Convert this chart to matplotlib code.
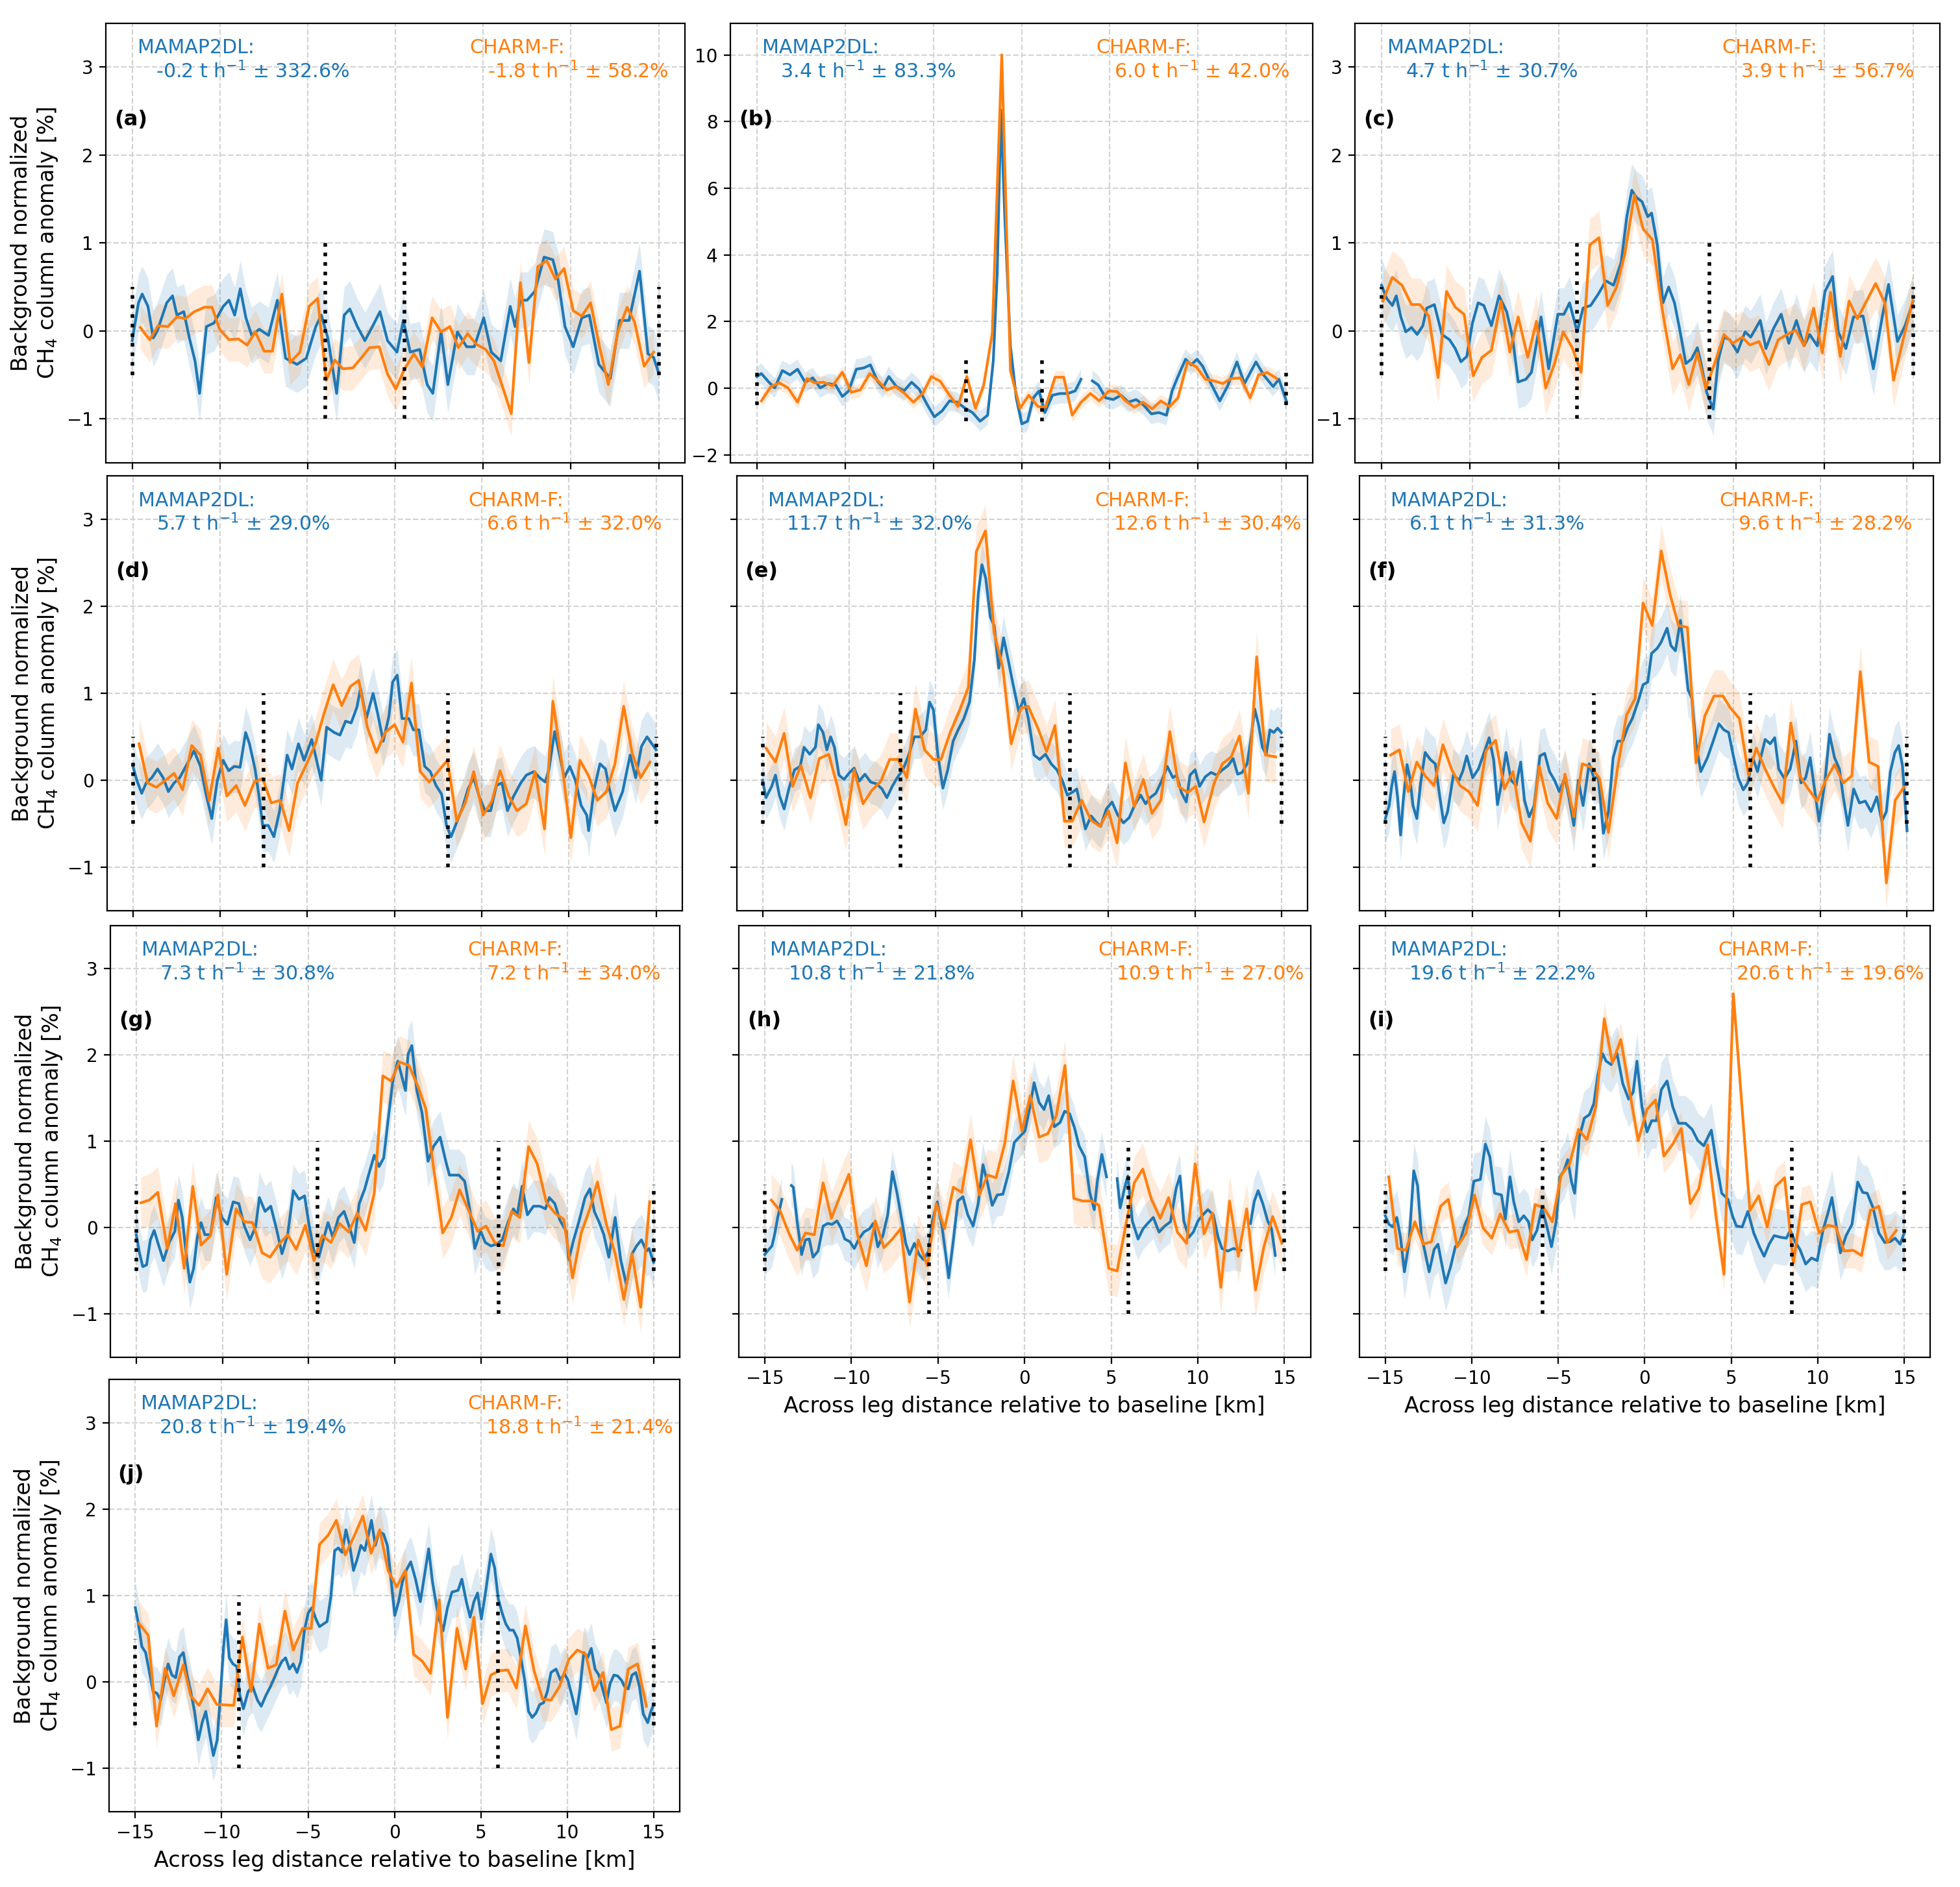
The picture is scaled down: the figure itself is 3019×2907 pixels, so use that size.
import numpy as np
import matplotlib
matplotlib.use("Agg")
import matplotlib.pyplot as plt

nan = np.nan

# Panel letters and reported emission rates (t/h) with relative errors (%)
panels = ["a", "b", "c", "d", "e", "f", "g", "h", "i", "j"]
mamap_rate = [-0.2, 3.4, 4.7, 5.7, 11.7, 6.1, 7.3, 10.8, 19.6, 20.8]
mamap_err = [332.6, 83.3, 30.7, 29.0, 32.0, 31.3, 30.8, 21.8, 22.2, 19.4]
charm_rate = [-1.8, 6.0, 3.9, 6.6, 12.6, 9.6, 7.2, 10.9, 20.6, 18.8]
charm_err = [58.2, 42.0, 56.7, 32.0, 30.4, 28.2, 34.0, 27.0, 19.6, 21.4]

# Inner plume boundaries (km)
edge_left = [-4.0, -3.15, -3.98, -7.52, -7.02, -3.01, -4.49, -5.5, -5.9, -9.0]
edge_right = [0.5, 1.17, 3.5, 3.07, 2.79, 6.0, 6.02, 6.0, 8.5, 5.99]

# Approximate 1-sigma band half-widths (%)
mamap_unc = [0.32, 0.3, 0.3, 0.3, 0.25, 0.3, 0.3, 0.25, 0.32, 0.3]
charm_unc = [0.25, 0.2, 0.3, 0.3, 0.3, 0.3, 0.3, 0.3, 0.2, 0.25]

# Profiles: (across-leg distance km, anomaly %)
a_mamap = [(-15.0, -0.11), (-14.64, 0.32), (-14.43, 0.42), (-14.1, 0.28), (-13.8, -0.08), (-13.57, 0.0),
           (-13.03, 0.32), (-12.7, 0.40), (-12.45, 0.18), (-12.06, 0.22), (-11.74, -0.08), (-11.42, -0.34),
           (-11.16, -0.71), (-10.77, 0.05), (-10.34, 0.09), (-9.81, 0.28), (-9.48, 0.35), (-9.16, 0.18),
           (-8.84, 0.48), (-8.52, 0.15), (-8.19, -0.05), (-7.76, 0.02), (-7.23, -0.05), (-6.73, 0.35),
           (-6.26, -0.31), (-5.61, -0.38), (-5.08, -0.31), (-4.54, 0.05), (-4.22, 0.18), (-3.85, -0.08),
           (-3.35, -0.71), (-2.92, 0.18), (-2.6, 0.25), (-2.17, 0.05), (-1.74, -0.11), (-1.31, 0.05),
           (-0.88, 0.22), (-0.45, -0.11), (0.09, -0.24), (0.45, 0.12), (0.84, -0.24), (1.38, -0.21),
           (1.81, -0.61), (2.13, -0.71), (2.6, -0.01), (2.99, -0.61), (3.53, -0.01), (4.06, -0.18),
           (4.49, -0.18), (5.03, 0.15), (5.46, -0.24), (6.0, -0.34), (6.54, 0.28), (6.82, 0.05),
           (7.12, 0.35), (7.5, 0.35), (7.94, 0.45), (8.47, 0.84), (8.97, 0.81), (9.27, 0.58),
           (9.66, 0.05), (10.13, -0.18), (10.62, 0.15), (11.05, 0.18), (11.59, -0.38), (12.24, -0.54),
           (12.77, 0.12), (13.31, 0.12), (13.91, 0.68), (14.39, -0.26), (14.71, -0.3), (15.0, -0.48)]
a_charm = [(-14.54, 0.04), (-14.0, -0.1), (-13.53, 0.06), (-12.97, 0.05), (-12.45, 0.16), (-11.96, 0.14),
           (-11.46, 0.22), (-10.88, 0.27), (-10.45, 0.27), (-10.02, 0.02), (-9.48, -0.1), (-8.95, -0.09),
           (-8.45, -0.16), (-7.98, -0.01), (-7.48, -0.23), (-7.01, -0.23), (-6.47, 0.42), (-6.0, -0.36),
           (-5.44, -0.24), (-4.92, 0.28), (-4.43, 0.37), (-3.94, -0.56), (-3.46, -0.33), (-2.99, -0.43),
           (-2.43, -0.42), (-1.96, -0.31), (-1.48, -0.19), (-0.92, -0.18), (-0.45, -0.49), (0.02, -0.66),
           (0.52, -0.43), (1.05, -0.26), (1.53, -0.41), (2.09, 0.15), (2.6, -0.01), (3.1, 0.05),
           (3.59, -0.19), (4.11, -0.03), (4.6, -0.15), (5.14, -0.21), (5.61, -0.34), (6.11, -0.64),
           (6.6, -0.94), (7.12, 0.55), (7.61, -0.36), (8.11, 0.73), (8.62, 0.80), (9.12, 0.59),
           (9.61, 0.71), (10.13, 0.23), (10.62, 0.17), (11.12, 0.32), (11.63, -0.18), (12.13, -0.61),
           (12.67, -0.01), (13.2, 0.27), (13.63, 0.1), (14.17, -0.4), (14.71, -0.24)]

b_mamap = [(-15.0, 0.35), (-14.74, 0.44), (-14.31, 0.18), (-13.98, 0.01), (-13.55, 0.53), (-13.12, 0.40),
           (-12.69, 0.57), (-12.26, 0.18), (-11.83, 0.31), (-11.4, 0.01), (-10.97, 0.14), (-10.54, 0.1),
           (-10.15, -0.25), (-9.79, -0.08), (-9.36, 0.57), (-8.93, 0.61), (-8.56, 0.70), (-8.17, 0.22),
           (-7.85, 0.01), (-7.52, 0.35), (-7.09, 0.05), (-6.66, -0.08), (-6.23, 0.18), (-5.8, -0.03),
           (-5.37, -0.47), (-4.94, -0.86), (-4.5, -0.68), (-4.08, -0.38), (-3.65, -0.42), (-3.2, -0.6),
           (-2.78, -0.73), (-2.35, -0.99), (-1.92, -0.81), (-1.6, 0.83), (-1.38, 3.42), (-1.17, 8.35),
           (-0.95, 5.15), (-0.63, 1.26), (-0.3, -0.29), (0.02, -1.07), (0.34, -0.99), (0.67, -0.29),
           (0.99, -0.08), (1.32, -0.73), (1.75, -0.21), (2.18, -0.16), (2.61, -0.16), (3.04, -0.08),
           (3.37, 0.27), (3.7, nan), (4.01, 0.22), (4.34, 0.1), (4.77, -0.29), (5.2, -0.34),
           (5.63, -0.21), (6.06, -0.42), (6.49, -0.34), (6.92, -0.51), (7.35, -0.77), (7.78, -0.73),
           (8.21, -0.81), (8.53, -0.08), (8.86, 0.35), (9.29, 0.87), (9.61, 0.70), (9.94, 0.87),
           (10.26, 0.66), (10.69, 0.18), (11.23, -0.38), (11.66, 0.05), (12.2, 0.79), (12.63, 0.14),
           (13.28, 0.79), (13.71, 0.40), (14.25, 0.05), (14.58, 0.27), (15.0, -0.38)]
b_charm = [(-14.74, -0.38), (-14.2, 0.05), (-13.72, 0.16), (-13.23, 0.01), (-12.69, -0.42), (-12.15, 0.29),
           (-11.72, 0.16), (-11.22, 0.18), (-10.71, 0.07), (-10.15, 0.48), (-9.64, -0.12), (-9.14, -0.05),
           (-8.6, 0.44), (-8.13, 0.22), (-7.63, -0.05), (-7.14, 0.05), (-6.62, -0.16), (-6.12, -0.42),
           (-5.58, -0.14), (-5.11, 0.35), (-4.61, 0.21), (-4.11, -0.19), (-3.6, -0.55), (-3.1, 0.35),
           (-2.61, -0.6), (-2.14, 0.1), (-1.66, 1.65), (-1.12, 10.0), (-0.63, 0.53), (-0.09, -0.6),
           (0.41, -0.21), (0.93, -0.55), (1.36, -0.57), (1.9, 0.33), (2.39, 0.33), (2.87, -0.81),
           (3.37, -0.42), (3.9, -0.16), (4.4, -0.38), (4.94, -0.08), (5.41, -0.1), (5.89, -0.38),
           (6.39, -0.57), (6.88, -0.42), (7.4, -0.62), (7.89, -0.38), (8.39, -0.55), (8.86, -0.29),
           (9.4, 0.79), (9.9, 0.64), (10.41, 0.27), (10.9, 0.22), (11.4, 0.14), (11.87, 0.29),
           (12.41, 0.31), (12.95, -0.29), (13.43, 0.4), (13.92, 0.47), (14.46, 0.29)]

c_mamap = [(-15.0, 0.52), (-14.71, 0.37), (-14.39, 0.29), (-14.17, 0.40), (-13.91, 0.16), (-13.63, -0.01),
           (-13.31, 0.04), (-12.99, -0.04), (-12.67, 0.06), (-12.45, 0.26), (-12.02, 0.30), (-11.59, -0.04),
           (-11.16, -0.1), (-10.84, -0.2), (-10.52, -0.35), (-10.19, -0.29), (-9.87, 0.09), (-9.55, 0.32),
           (-9.23, 0.29), (-8.8, 0.06), (-8.37, 0.40), (-7.94, 0.22), (-7.61, -0.07), (-7.29, -0.58),
           (-6.86, -0.55), (-6.54, -0.47), (-6.0, 0.16), (-5.57, -0.43), (-5.05, 0.19), (-4.71, 0.19),
           (-4.39, 0.32), (-3.96, -0.01), (-3.63, 0.26), (-3.2, 0.29), (-2.77, 0.42), (-2.34, 0.57),
           (-1.91, 0.52), (-1.48, 0.78), (-1.16, 1.30), (-0.88, 1.60), (-0.62, 1.52), (-0.3, 1.47),
           (0.02, 1.30), (0.24, 1.34), (0.56, 0.98), (0.88, 0.32), (1.2, 0.50), (1.53, 0.32),
           (1.85, -0.01), (2.17, -0.37), (2.49, -0.32), (2.82, -0.19), (3.03, -0.37), (3.35, -0.70),
           (3.72, -0.89), (4.0, -0.33), (4.32, -0.07), (4.65, -0.1), (5.08, -0.24), (5.51, -0.01),
           (5.83, -0.07), (6.37, 0.12), (6.69, -0.2), (7.12, 0.03), (7.55, 0.19), (7.98, -0.14),
           (8.41, 0.12), (8.84, -0.17), (9.16, -0.04), (9.59, -0.17), (10.02, 0.45), (10.45, 0.62),
           (10.77, -0.01), (11.2, -0.2), (11.63, 0.16), (12.17, 0.17), (12.75, -0.43), (13.25, 0.16),
           (13.61, 0.53), (14.11, -0.12), (14.54, 0.06), (15.0, 0.34)]
c_charm = [(-14.92, 0.34), (-14.39, 0.61), (-13.85, 0.52), (-13.31, 0.30), (-12.84, 0.30), (-12.34, 0.17),
           (-11.81, -0.53), (-11.33, 0.45), (-10.84, 0.27), (-10.34, 0.19), (-9.83, -0.51), (-9.33, -0.30),
           (-8.8, -0.22), (-8.26, 0.34), (-7.76, -0.24), (-7.29, 0.16), (-6.75, -0.30), (-6.26, 0.11),
           (-5.74, -0.65), (-5.25, -0.38), (-4.75, -0.01), (-4.24, -0.19), (-3.74, -0.47), (-3.25, 0.98),
           (-2.73, 1.06), (-2.24, 0.29), (-1.74, 0.50), (-1.27, 0.88), (-0.73, 1.55), (-0.24, 1.16),
           (0.28, 1.04), (0.84, 0.24), (1.42, -0.43), (1.85, -0.27), (2.34, -0.61), (2.82, -0.25),
           (3.29, -0.65), (3.78, -0.38), (4.32, -0.04), (4.82, -0.14), (5.35, -0.07), (5.78, -0.16),
           (6.3, -0.12), (6.86, -0.38), (7.38, -0.1), (7.87, -0.04), (8.37, 0.01), (8.84, -0.17),
           (9.38, 0.26), (9.87, -0.25), (10.34, 0.44), (10.88, -0.29), (11.38, 0.34), (11.85, 0.14),
           (12.39, 0.35), (12.88, 0.54), (13.4, 0.32), (13.89, -0.56), (14.43, -0.1), (14.97, 0.34)]

d_mamap = [(-15.0, 0.16), (-14.78, 0.0), (-14.5, -0.15), (-14.24, -0.03), (-13.92, 0.03), (-13.59, 0.13),
           (-13.27, 0.03), (-12.97, -0.13), (-12.64, -0.03), (-12.32, 0.03), (-11.89, 0.19), (-11.5, 0.34),
           (-11.13, 0.16), (-10.81, -0.16), (-10.48, -0.44), (-10.16, 0.0), (-9.83, 0.23), (-9.51, 0.11),
           (-9.19, 0.16), (-8.86, 0.15), (-8.54, 0.55), (-8.32, 0.42), (-8.0, 0.13), (-7.74, -0.23),
           (-7.56, -0.52), (-7.24, -0.52), (-6.92, -0.65), (-6.59, -0.35), (-6.16, 0.29), (-5.88, 0.13),
           (-5.51, 0.42), (-5.19, 0.23), (-4.75, 0.47), (-4.54, 0.29), (-4.21, 0.0), (-3.89, 0.61),
           (-3.46, 0.55), (-3.13, 0.52), (-2.81, 0.68), (-2.49, 0.66), (-2.16, 0.84), (-1.95, 1.06),
           (-1.62, 0.71), (-1.23, 1.0), (-0.97, 0.77), (-0.65, 0.45), (-0.32, 0.74), (-0.11, 1.13),
           (0.15, 1.21), (0.43, 0.71), (0.82, 0.71), (1.08, 0.58), (1.4, 0.58), (1.73, 0.16),
           (2.05, 0.1), (2.38, -0.06), (2.7, -0.16), (2.98, -0.52), (3.24, -0.65), (3.57, -0.48),
           (3.89, -0.32), (4.21, -0.1), (4.54, 0.03), (4.86, -0.19), (5.19, -0.35), (5.51, -0.35),
           (5.84, -0.06), (6.16, -0.03), (6.48, -0.35), (6.81, -0.19), (7.24, -0.03), (7.56, 0.06),
           (8.0, 0.1), (8.32, 0.03), (8.64, -0.02), (8.86, 0.13), (9.18, 0.56), (9.47, 0.29),
           (9.73, 0.03), (10.05, 0.16), (10.37, 0.0), (10.7, -0.29), (11.02, -0.4), (11.13, -0.58),
           (11.45, -0.1), (11.78, 0.19), (12.1, 0.13), (12.32, -0.1), (12.64, -0.35), (13.08, -0.13),
           (13.51, 0.29), (13.83, 0.03), (14.16, 0.39), (14.48, 0.5), (15.0, 0.35)]
d_charm = [(-14.65, 0.42), (-14.16, -0.03), (-13.66, -0.08), (-13.14, 0.0), (-12.64, 0.08), (-12.15, -0.11),
           (-11.63, 0.40), (-11.13, 0.29), (-10.63, -0.23), (-10.11, 0.37), (-9.62, -0.18), (-9.08, -0.06),
           (-8.58, -0.29), (-8.04, -0.02), (-7.56, 0.02), (-7.07, -0.26), (-6.55, -0.23), (-6.05, -0.58),
           (-5.56, -0.03), (-5.04, 0.19), (-4.54, 0.42), (-4.04, 0.77), (-3.52, 1.10), (-3.03, 0.86),
           (-2.53, 1.08), (-2.05, 1.15), (-1.56, 0.61), (-1.04, 0.32), (-0.54, 0.55), (0.0, 0.64),
           (0.48, 0.44), (0.97, 1.12), (1.47, 0.10), (1.99, -0.02), (2.49, 0.10), (3.03, 0.23),
           (3.57, -0.47), (4.06, -0.26), (4.54, 0.10), (5.08, -0.40), (5.58, -0.24), (6.05, 0.11),
           (6.55, -0.18), (7.02, -0.35), (7.56, -0.27), (8.06, 0.10), (8.6, -0.56), (9.08, 0.91),
           (9.62, 0.16), (10.11, -0.66), (10.63, 0.23), (11.13, 0.05), (11.63, -0.23), (12.15, -0.13),
           (12.64, 0.19), (13.14, 0.85), (13.62, 0.32), (14.11, 0.03), (14.65, 0.21)]

e_mamap = [(-15.0, 0.0), (-14.8, -0.2), (-14.47, -0.07), (-14.25, 0.06), (-14.03, -0.17), (-13.75, -0.33),
           (-13.48, -0.1), (-13.15, 0.12), (-12.82, 0.16), (-12.6, 0.38), (-12.27, 0.30), (-11.94, 0.38),
           (-11.77, 0.64), (-11.5, 0.55), (-11.28, 0.35), (-11.06, 0.50), (-10.84, 0.38), (-10.58, 0.06),
           (-10.29, 0.01), (-9.96, 0.09), (-9.7, 0.14), (-9.41, -0.01), (-9.08, 0.07), (-8.75, -0.02),
           (-8.42, -0.04), (-8.09, -0.1), (-7.81, -0.2), (-7.5, -0.07), (-7.21, 0.03), (-6.88, 0.12),
           (-6.55, 0.29), (-6.22, 0.50), (-5.89, 0.50), (-5.56, 0.58), (-5.34, 0.90), (-5.12, 0.81),
           (-4.86, 0.29), (-4.57, -0.09), (-4.29, 0.12), (-3.98, 0.45), (-3.69, 0.58), (-3.36, 0.71),
           (-3.03, 0.90), (-2.75, 1.39), (-2.53, 2.14), (-2.31, 2.48), (-2.09, 2.32), (-1.83, 1.88),
           (-1.61, 1.78), (-1.34, 1.29), (-1.06, 1.64), (-0.77, 1.36), (-0.51, 1.10), (-0.18, 0.79),
           (0.11, 0.94), (0.37, 0.71), (0.7, 0.29), (1.03, 0.24), (1.36, 0.30), (1.69, 0.19),
           (2.02, 0.12), (2.35, -0.01), (2.62, -0.17), (2.9, -0.14), (3.17, -0.1), (3.45, -0.36),
           (3.67, -0.56), (4.0, -0.41), (4.29, -0.48), (4.55, -0.53), (4.88, -0.33), (5.21, -0.25),
           (5.54, -0.40), (5.87, -0.49), (6.2, -0.43), (6.53, -0.28), (6.86, -0.17), (7.15, -0.27),
           (7.41, -0.2), (7.74, -0.15), (8.07, -0.01), (8.4, 0.16), (8.73, 0.03), (8.95, 0.06),
           (9.22, -0.14), (9.5, -0.25), (9.72, 0.06), (10.01, 0.12), (10.27, -0.07), (10.6, 0.04),
           (10.93, 0.09), (11.26, 0.06), (11.59, 0.12), (11.92, 0.17), (12.21, 0.25), (12.47, 0.07),
           (12.73, 0.09), (13.02, 0.19), (13.24, 0.48), (13.46, 0.82), (13.68, 0.64), (13.9, 0.38),
           (14.12, 0.30), (14.34, 0.58), (14.56, 0.55), (14.78, 0.60), (15.0, 0.55)]
e_charm = [(-14.8, 0.37), (-14.25, 0.21), (-13.75, 0.54), (-13.26, -0.07), (-12.78, 0.17), (-12.23, -0.2),
           (-11.72, 0.25), (-11.17, 0.30), (-10.67, -0.07), (-10.18, -0.51), (-9.7, 0.12), (-9.19, -0.27),
           (-8.69, -0.12), (-8.16, -0.01), (-7.65, 0.24), (-7.15, 0.24), (-6.66, 0.03), (-6.16, 0.82),
           (-5.63, 0.35), (-5.12, 0.24), (-4.68, 0.24), (-4.13, 0.56), (-3.63, 0.79), (-3.1, 1.07),
           (-2.64, 2.63), (-2.11, 2.87), (-1.61, 1.70), (-1.1, 1.29), (-0.62, 0.42), (-0.07, 0.83),
           (0.37, 0.85), (0.92, 0.60), (1.43, 0.33), (1.91, 0.63), (2.46, -0.47), (2.9, -0.47),
           (3.45, -0.23), (4.0, -0.46), (4.51, -0.53), (5.0, -0.35), (5.5, -0.72), (5.98, 0.20),
           (6.49, -0.30), (7.02, 0.01), (7.52, -0.38), (8.03, -0.23), (8.55, 0.56), (9.06, -0.07),
           (9.57, -0.14), (10.05, -0.07), (10.53, -0.48), (11.1, -0.04), (11.59, 0.19), (12.1, 0.27),
           (12.58, 0.51), (13.09, -0.15), (13.57, 1.42), (14.08, 0.29), (14.67, 0.27)]

f_mamap = [(-15.0, -0.44), (-14.78, -0.29), (-14.63, -0.06), (-14.47, 0.10), (-14.3, -0.19), (-14.12, -0.63),
           (-13.97, -0.23), (-13.75, 0.18), (-13.59, 0.03), (-13.41, -0.29), (-13.19, -0.44), (-12.97, -0.03),
           (-12.71, 0.32), (-12.42, 0.24), (-12.13, 0.19), (-11.87, -0.19), (-11.64, -0.49), (-11.42, -0.36),
           (-11.09, 0.06), (-10.76, 0.0), (-10.54, 0.11), (-10.32, 0.28), (-9.98, 0.03), (-9.65, 0.13),
           (-9.32, 0.32), (-9.03, 0.49), (-8.77, 0.23), (-8.55, -0.28), (-8.32, -0.03), (-8.06, 0.32),
           (-7.77, 0.0), (-7.48, -0.06), (-7.22, 0.21), (-7.0, -0.23), (-6.73, -0.42), (-6.44, -0.29),
           (-6.11, 0.28), (-5.84, 0.31), (-5.56, 0.10), (-5.27, 0.0), (-5.0, -0.13), (-4.67, 0.03),
           (-4.45, -0.19), (-4.16, -0.52), (-3.9, 0.0), (-3.63, -0.29), (-3.28, 0.19), (-3.01, 0.03),
           (-2.75, 0.03), (-2.46, -0.61), (-2.17, -0.36), (-1.9, 0.26), (-1.64, 0.45), (-1.35, 0.45),
           (-1.06, 0.61), (-0.8, 0.71), (-0.46, 0.91), (-0.18, 1.10), (0.09, 1.13), (0.31, 1.46),
           (0.64, 1.52), (0.86, 1.59), (1.2, 1.75), (1.42, 1.55), (1.68, 1.49), (1.97, 1.84),
           (2.19, 1.46), (2.41, 1.04), (2.63, 0.94), (2.86, 0.42), (3.14, 0.10), (3.52, 0.26),
           (3.85, 0.45), (4.18, 0.65), (4.47, 0.58), (4.74, 0.55), (5.0, 0.29), (5.29, 0.03),
           (5.58, -0.11), (5.84, -0.03), (6.13, 0.26), (6.4, 0.10), (6.62, 0.29), (6.84, 0.47),
           (7.13, 0.42), (7.39, 0.49), (7.62, 0.13), (7.95, 0.02), (8.28, 0.13), (8.61, 0.45),
           (8.9, -0.03), (9.17, 0.03), (9.43, 0.26), (9.65, -0.06), (9.94, -0.47), (10.27, -0.03),
           (10.54, 0.53), (10.83, 0.26), (11.11, 0.13), (11.33, -0.19), (11.6, -0.52), (11.93, -0.1),
           (12.26, -0.26), (12.6, -0.24), (12.93, -0.36), (13.26, -0.19), (13.55, -0.47), (13.81, -0.36),
           (14.04, 0.10), (14.3, 0.32), (14.52, 0.40), (14.74, 0.16), (15.0, -0.58)]
f_charm = [(-14.7, 0.29), (-14.19, 0.35), (-13.68, -0.13), (-13.19, 0.21), (-12.71, 0.05), (-12.2, -0.06),
           (-11.69, 0.41), (-11.2, 0.13), (-10.71, -0.06), (-10.2, -0.13), (-9.7, -0.29), (-9.21, 0.34),
           (-8.66, 0.46), (-8.15, -0.1), (-7.66, 0.10), (-7.17, -0.49), (-6.66, -0.70), (-6.15, 0.16),
           (-5.67, -0.26), (-5.15, -0.44), (-4.67, 0.07), (-4.16, -0.42), (-3.67, 0.19), (-3.16, 0.15),
           (-2.68, 0.02), (-2.17, -0.60), (-1.64, 0.15), (-1.13, 0.75), (-0.64, 0.94), (-0.18, 2.04),
           (0.35, 1.78), (0.86, 2.64), (1.37, 2.14), (1.86, 1.78), (2.37, 1.76), (2.86, 0.20),
           (3.37, 0.74), (3.9, 0.97), (4.41, 0.97), (4.85, 0.83), (5.36, 0.71), (5.89, 0.06),
           (6.33, 0.37), (6.84, 0.13), (7.35, -0.08), (7.84, -0.26), (8.32, 0.66), (8.83, 0.05),
           (9.32, -0.1), (9.83, -0.24), (10.32, 0.0), (10.83, 0.18), (11.33, -0.03), (11.82, 0.05),
           (12.31, 1.25), (12.82, 0.21), (13.33, 0.16), (13.81, -1.18), (14.32, -0.23), (14.81, -0.08)]

g_mamap = [(-15.0, -0.08), (-14.8, -0.3), (-14.62, -0.45), (-14.4, -0.43), (-14.18, -0.14), (-13.96, -0.03),
           (-13.75, -0.17), (-13.42, -0.38), (-13.09, -0.17), (-12.76, -0.04), (-12.55, 0.32), (-12.33, 0.12),
           (-12.11, -0.3), (-11.89, -0.63), (-11.67, -0.47), (-11.46, -0.11), (-11.24, 0.06), (-11.02, -0.08),
           (-10.69, -0.08), (-10.36, 0.35), (-10.04, 0.12), (-9.71, 0.04), (-9.38, 0.30), (-9.05, 0.28),
           (-8.73, 0.02), (-8.4, -0.14), (-8.07, 0.02), (-7.86, 0.35), (-7.53, 0.19), (-7.2, 0.25),
           (-6.87, -0.01), (-6.55, -0.3), (-6.22, -0.08), (-5.89, 0.43), (-5.56, 0.33), (-5.24, 0.37),
           (-4.97, 0.02), (-4.69, -0.27), (-4.41, -0.34), (-4.15, -0.14), (-3.88, 0.06), (-3.6, -0.11),
           (-3.27, 0.12), (-2.95, 0.19), (-2.66, 0.02), (-2.36, -0.17), (-2.07, 0.28), (-1.75, 0.45),
           (-1.53, 0.61), (-1.2, 0.84), (-0.92, 0.71), (-0.65, 0.81), (-0.39, 1.26), (-0.11, 1.72),
           (0.17, 1.93), (0.44, 1.72), (0.61, 1.59), (0.76, 2.01), (0.98, 2.11), (1.27, 1.59),
           (1.57, 1.33), (1.92, 0.77), (2.23, 0.94), (2.62, 1.05), (2.95, 0.77), (3.16, 0.61),
           (3.71, 0.61), (4.04, 0.54), (4.36, 0.19), (4.63, -0.24), (4.97, -0.04), (5.24, -0.17),
           (5.56, -0.21), (5.89, -0.19), (6.22, -0.14), (6.55, 0.06), (6.87, 0.22), (7.09, 0.15),
           (7.37, 0.48), (7.68, 0.15), (8.03, 0.25), (8.4, 0.25), (8.73, 0.22), (8.95, 0.35),
           (9.27, 0.28), (9.56, 0.09), (9.93, -0.04), (10.08, -0.37), (10.36, -0.14), (10.69, 0.09),
           (11.02, 0.35), (11.3, 0.45), (11.56, 0.19), (11.85, 0.06), (12.11, -0.08), (12.4, -0.34),
           (12.77, 0.12), (13.09, -0.37), (13.42, -0.66), (13.75, -0.3), (14.01, -0.21), (14.29, -0.14),
           (14.58, -0.27), (14.73, -0.24), (15.0, -0.4)]
g_charm = [(-14.73, 0.29), (-14.25, 0.32), (-13.75, 0.41), (-13.2, -0.24), (-12.72, 0.28), (-12.22, -0.47),
           (-11.72, 0.48), (-11.24, -0.2), (-10.69, -0.09), (-10.26, 0.38), (-9.75, -0.54), (-9.21, 0.22),
           (-8.73, 0.07), (-8.25, 0.06), (-7.7, -0.29), (-7.24, -0.34), (-6.72, -0.19), (-6.22, -0.08),
           (-5.72, -0.25), (-5.19, 0.03), (-4.69, -0.38), (-4.21, -0.09), (-3.71, -0.17), (-3.21, 0.05),
           (-2.68, -0.05), (-2.18, 0.17), (-1.7, -0.03), (-1.2, 0.40), (-0.7, 1.76), (-0.22, 1.70),
           (0.26, 1.92), (0.81, 1.88), (1.31, 1.65), (1.79, 1.38), (2.25, 0.68), (2.77, -0.06),
           (3.27, 0.12), (3.75, 0.44), (4.3, 0.19), (4.8, -0.04), (5.28, 0.02), (5.78, -0.17),
           (6.28, -0.21), (6.76, 0.19), (7.24, 0.12), (7.75, 0.94), (8.25, 0.74), (8.77, 0.30),
           (9.27, 0.17), (9.78, 0.10), (10.3, -0.58), (10.8, -0.06), (11.3, 0.22), (11.74, 0.53),
           (12.26, 0.04), (12.77, -0.30), (13.27, -0.83), (13.75, -0.30), (14.25, -0.92), (14.77, 0.30)]

h_mamap = [(-15.0, -0.31), (-14.8, -0.26), (-14.58, -0.21), (-14.43, -0.08), (-14.25, 0.12), (-14.01, 0.33),
           (-13.7, nan), (-13.46, 0.49), (-13.35, 0.47), (-13.13, 0.08), (-12.87, -0.31), (-12.65, -0.14),
           (-12.43, -0.13), (-12.21, -0.34), (-11.92, -0.27), (-11.63, 0.02), (-11.37, 0.05), (-11.11, 0.04),
           (-10.83, 0.08), (-10.6, 0.0), (-10.38, -0.13), (-10.09, -0.16), (-9.83, -0.24), (-9.57, -0.13),
           (-9.28, -0.05), (-8.95, -0.01), (-8.73, 0.05), (-8.47, -0.22), (-8.18, -0.09), (-7.9, 0.15),
           (-7.63, 0.65), (-7.37, 0.41), (-7.08, 0.08), (-6.86, -0.18), (-6.64, -0.31), (-6.36, -0.18),
           (-6.09, -0.31), (-5.83, -0.37), (-5.54, -0.27), (-5.32, 0.08), (-5.04, 0.30), (-4.77, 0.02),
           (-4.55, -0.31), (-4.38, -0.58), (-4.11, -0.14), (-3.85, 0.31), (-3.56, 0.36), (-3.28, 0.15),
           (-2.97, 0.02), (-2.68, 0.28), (-2.4, 0.73), (-2.13, 0.51), (-1.87, 0.26), (-1.58, 0.38),
           (-1.25, 0.39), (-0.92, 0.64), (-0.59, 0.99), (-0.26, 1.06), (0.02, 1.12), (0.29, 1.38),
           (0.55, 1.68), (0.84, 1.45), (1.12, 1.37), (1.39, 1.53), (1.72, 1.17), (2.05, 1.22),
           (2.31, 1.35), (2.6, 1.32), (2.88, 1.16), (3.14, 0.95), (3.47, 0.82), (3.76, 0.41),
           (4.02, 0.21), (4.2, 0.54), (4.46, 0.85), (4.73, 0.59), (5.0, nan), (5.34, 0.57),
           (5.52, 0.23), (5.78, 0.47), (5.96, 0.60), (6.22, 0.08), (6.55, -0.13), (6.84, -0.01),
           (7.1, 0.05), (7.43, 0.12), (7.76, -0.05), (8.09, 0.02), (8.42, 0.07), (8.75, 0.46),
           (8.97, 0.60), (9.19, 0.08), (9.48, -0.11), (9.74, -0.05), (10.01, 0.08), (10.29, 0.15),
           (10.58, 0.21), (10.89, 0.15), (11.17, -0.11), (11.39, -0.24), (11.72, -0.27), (12.05, -0.24),
           (12.49, -0.26), (12.75, nan), (13.04, 0.05), (13.26, 0.31), (13.48, 0.43), (13.75, 0.28),
           (14.03, 0.08), (14.25, -0.01), (14.47, -0.32)]
h_charm = [(-14.62, 0.32), (-14.12, 0.20), (-13.61, -0.06), (-13.13, -0.26), (-12.65, -0.06), (-12.14, -0.08),
           (-11.63, 0.52), (-11.15, 0.11), (-10.67, 0.36), (-10.14, 0.62), (-9.65, -0.08), (-9.13, -0.44),
           (-8.62, 0.08), (-8.12, -0.23), (-7.63, -0.13), (-7.15, -0.01), (-6.64, -0.86), (-6.14, -0.14),
           (-5.61, -0.44), (-5.1, 0.28), (-4.62, -0.01), (-4.11, 0.47), (-3.63, 0.41), (-3.12, 1.02),
           (-2.62, 0.38), (-2.13, 0.61), (-1.65, 0.58), (-1.14, 0.98), (-0.66, 1.70), (-0.15, 1.12),
           (0.33, 1.53), (0.84, 1.05), (1.34, 1.09), (1.83, 1.30), (2.33, 1.88), (2.84, 0.34),
           (3.36, 0.31), (3.85, 0.31), (4.29, 0.26), (4.86, -0.47), (5.34, -0.50), (5.83, 0.02),
           (6.33, 0.52), (6.82, 0.68), (7.32, 0.33), (7.83, 0.11), (8.31, 0.35), (8.82, -0.05),
           (9.35, -0.18), (9.85, 0.74), (10.36, -0.07), (10.84, 0.17), (11.33, -0.69), (11.83, 0.31),
           (12.34, -0.33), (12.82, 0.22), (13.33, -0.72), (13.81, -0.22), (14.32, 0.13), (14.85, -0.18)]

i_mamap = [(-15.0, 0.14), (-14.78, 0.04), (-14.56, 0.01), (-14.33, 0.12), (-14.11, -0.12), (-13.89, -0.51),
           (-13.62, -0.16), (-13.35, 0.66), (-13.13, 0.49), (-12.91, -0.09), (-12.69, -0.29), (-12.46, -0.51),
           (-12.17, -0.25), (-11.95, -0.19), (-11.73, -0.42), (-11.51, -0.64), (-11.22, -0.45), (-10.95, -0.22),
           (-10.68, -0.16), (-10.39, 0.04), (-10.17, 0.14), (-9.88, 0.54), (-9.5, 0.56), (-9.21, 0.97),
           (-8.95, 0.82), (-8.68, 0.40), (-8.28, 0.38), (-8.06, 0.10), (-7.79, 0.59), (-7.57, 0.30),
           (-7.28, 0.07), (-6.99, 0.14), (-6.72, 0.07), (-6.5, -0.14), (-6.23, -0.03), (-5.94, 0.23),
           (-5.65, 0.01), (-5.39, -0.22), (-5.12, 0.07), (-4.9, 0.59), (-4.67, 0.66), (-4.45, 0.79),
           (-4.23, 0.53), (-4.05, 0.40), (-3.78, 1.05), (-3.49, 1.27), (-3.2, 1.31), (-2.94, 1.44),
           (-2.72, 1.76), (-2.45, 2.02), (-2.23, 1.93), (-1.94, 1.89), (-1.6, 2.02), (-1.27, 1.67),
           (-0.93, 1.49), (-0.67, 1.57), (-0.45, 1.93), (-0.16, 1.40), (0.13, 1.11), (0.4, 1.24),
           (0.67, 1.24), (0.96, 1.60), (1.29, 1.70), (1.62, 1.40), (1.96, 1.21), (2.36, 1.21),
           (2.74, 1.14), (3.07, 1.01), (3.41, 0.95), (3.85, 1.13), (4.14, 0.75), (4.45, 0.40),
           (4.81, 0.33), (5.07, 0.14), (5.3, 0.02), (5.63, 0.01), (5.96, 0.19), (6.3, -0.06),
           (6.63, -0.22), (6.9, -0.33), (7.19, -0.19), (7.48, -0.09), (7.86, -0.11), (8.19, -0.12),
           (8.41, -0.03), (8.68, -0.16), (8.97, -0.25), (9.3, -0.42), (9.64, -0.35), (9.97, -0.38),
           (10.3, -0.03), (10.59, 0.17), (10.82, 0.35), (11.08, 0.01), (11.31, -0.29), (11.64, -0.09),
           (11.98, 0.04), (12.31, 0.53), (12.6, 0.41), (12.86, 0.40), (13.2, 0.23), (13.53, -0.06),
           (13.87, -0.17), (14.2, -0.16), (14.47, -0.12), (14.76, -0.19), (15.0, -0.06)]
i_charm = [(-14.8, 0.59), (-14.29, -0.24), (-13.8, -0.26), (-13.29, 0.07), (-12.8, -0.19), (-12.33, -0.16),
           (-11.8, 0.25), (-11.35, 0.33), (-10.84, -0.22), (-10.33, -0.06), (-9.84, 0.38), (-9.35, 0.0),
           (-8.84, -0.12), (-8.35, 0.16), (-7.83, -0.05), (-7.34, -0.03), (-6.83, -0.37), (-6.34, 0.27),
           (-5.83, 0.23), (-5.34, 0.07), (-4.83, 0.61), (-4.34, 0.74), (-3.83, 1.14), (-3.34, 1.02),
           (-2.83, 1.40), (-2.34, 2.42), (-1.87, 1.91), (-1.38, 2.18), (-0.89, 1.60), (-0.38, 1.01),
           (0.13, 1.37), (0.62, 1.48), (1.11, 0.83), (1.62, 0.97), (2.11, 1.15), (2.63, 0.28),
           (3.12, 0.45), (3.63, 0.96), (4.14, 0.10), (4.58, -0.54), (5.12, 2.71), (6.08, 0.20),
           (6.59, 0.37), (7.08, 0.01), (7.57, 0.48), (8.08, 0.58), (8.59, -0.41), (9.08, 0.27),
           (9.57, 0.30), (10.08, -0.06), (10.59, 0.03), (11.04, 0.01), (11.53, -0.27), (12.04, -0.26),
           (12.53, -0.32), (13.04, 0.20), (13.53, 0.25), (14.02, -0.17), (14.54, -0.03)]

j_mamap = [(-15.0, 0.86), (-14.84, 0.70), (-14.62, 0.41), (-14.4, 0.34), (-14.18, 0.11), (-13.97, -0.11),
           (-13.75, -0.13), (-13.53, -0.21), (-13.31, 0.02), (-13.1, 0.21), (-12.88, 0.08), (-12.66, 0.05),
           (-12.44, 0.29), (-12.22, 0.34), (-12.0, 0.08), (-11.79, -0.11), (-11.57, -0.34), (-11.35, -0.67),
           (-11.13, -0.47), (-10.92, -0.34), (-10.7, -0.6), (-10.48, -0.85), (-10.26, -0.67), (-10.04, -0.05),
           (-9.89, 0.41), (-9.74, 0.72), (-9.56, 0.28), (-9.35, 0.21), (-9.13, 0.18), (-8.95, -0.15),
           (-8.74, -0.31), (-8.47, -0.11), (-8.21, -0.05), (-7.93, -0.21), (-7.71, -0.28), (-7.43, -0.15),
           (-7.17, -0.05), (-6.95, 0.05), (-6.74, 0.15), (-6.51, 0.24), (-6.3, 0.28), (-6.08, 0.15),
           (-5.86, 0.21), (-5.64, 0.11), (-5.42, 0.24), (-5.21, 0.60), (-4.99, 0.80), (-4.77, 0.86),
           (-4.55, 0.73), (-4.34, 0.64), (-4.12, 0.67), (-3.9, 0.70), (-3.68, 0.99), (-3.46, 1.52),
           (-3.25, 1.55), (-3.03, 1.50), (-2.81, 1.76), (-2.59, 1.58), (-2.37, 1.29), (-2.16, 1.42),
           (-1.94, 1.58), (-1.72, 1.52), (-1.5, 1.71), (-1.33, 1.87), (-1.11, 1.58), (-0.89, 1.74),
           (-0.63, 1.71), (-0.41, 1.58), (-0.2, 1.19), (0.02, 0.77), (0.24, 0.93), (0.46, 1.16),
           (0.68, 1.29), (0.94, 1.39), (1.22, 1.19), (1.5, 0.93), (1.76, 1.26), (1.98, 1.54),
           (2.2, 1.16), (2.53, 0.77), (2.81, 0.59), (3.07, 0.86), (3.33, 1.04), (3.68, 1.06),
           (3.9, 1.19), (4.16, 0.93), (4.38, 0.75), (4.6, 0.93), (4.81, 1.03), (5.03, 0.73),
           (5.29, 1.06), (5.58, 1.48), (5.8, 1.32), (6.01, 0.96), (6.23, 0.80), (6.45, 0.67),
           (6.67, 0.60), (6.88, 0.60), (7.1, 0.51), (7.32, 0.28), (7.54, 0.02), (7.76, -0.34),
           (7.97, -0.41), (8.19, -0.36), (8.41, -0.26), (8.63, -0.24), (8.85, -0.11), (9.06, 0.11),
           (9.35, 0.15), (9.61, 0.02), (9.83, 0.10), (10.04, 0.02), (10.3, -0.18), (10.52, -0.37),
           (10.74, -0.08), (10.96, 0.34), (11.18, 0.28), (11.39, 0.39), (11.61, 0.15), (11.83, 0.08),
           (12.05, -0.08), (12.27, -0.24), (12.48, -0.02), (12.7, 0.08), (12.92, 0.07), (13.14, 0.02),
           (13.31, -0.05), (13.53, -0.08), (13.75, 0.08), (13.97, 0.11), (14.18, -0.05), (14.4, -0.37),
           (14.66, -0.47), (14.84, -0.34), (15.0, -0.26)]
j_charm = [(-14.79, 0.68), (-14.25, 0.54), (-13.77, -0.51), (-13.27, 0.16), (-12.77, -0.16), (-12.22, 0.20),
           (-11.79, -0.16), (-11.31, -0.27), (-10.81, -0.08), (-10.28, -0.26), (-9.3, -0.27), (-8.8, 0.52),
           (-8.3, -0.11), (-7.82, 0.67), (-7.32, 0.16), (-6.84, 0.20), (-6.34, 0.82), (-5.86, 0.37),
           (-5.32, 0.62), (-4.82, 0.62), (-4.34, 1.59), (-3.83, 1.70), (-3.36, 1.87), (-2.85, 1.47),
           (-2.37, 1.67), (-1.83, 1.92), (-1.35, 1.49), (-0.85, 1.76), (-0.37, 1.29), (0.13, 1.10),
           (0.63, 1.29), (1.11, 0.32), (1.61, 0.24), (2.09, 0.10), (2.59, 0.95), (3.07, -0.41),
           (3.62, 0.62), (4.12, 0.15), (4.6, 0.75), (5.1, -0.25), (5.58, 0.08), (6.08, 0.13),
           (6.56, 0.14), (7.06, -0.07), (7.58, 0.65), (8.08, 0.13), (8.58, -0.20), (9.06, -0.21),
           (9.56, -0.05), (10.09, 0.26), (10.59, 0.37), (11.07, 0.32), (11.57, -0.10), (12.07, 0.11),
           (12.55, -0.55), (13.05, -0.51), (13.53, 0.15), (14.07, 0.21), (14.58, -0.28)]

mamap_profiles = [a_mamap, b_mamap, c_mamap, d_mamap, e_mamap, f_mamap, g_mamap, h_mamap, i_mamap, j_mamap]
charm_profiles = [a_charm, b_charm, c_charm, d_charm, e_charm, f_charm, g_charm, h_charm, i_charm, j_charm]

# axes rectangles in figure fraction (left, bottom, width, height)
rects = {
    "a": (0.0540, 0.7547, 0.2955, 0.2330),
    "b": (0.3726, 0.7547, 0.2972, 0.2330),
    "c": (0.6913, 0.7547, 0.2984, 0.2330),
    "d": (0.0545, 0.5174, 0.2936, 0.2303),
    "e": (0.3758, 0.5174, 0.2912, 0.2303),
    "f": (0.6935, 0.5174, 0.2928, 0.2303),
    "g": (0.0563, 0.2807, 0.2904, 0.2288),
    "h": (0.3769, 0.2807, 0.2917, 0.2288),
    "i": (0.6935, 0.2807, 0.2913, 0.2288),
    "j": (0.0558, 0.0399, 0.2909, 0.2291),
}
ylabel_panels = ["a", "d", "g", "j"]
xlabel_panels = ["h", "i", "j"]
no_ylabels = ["e", "f", "h", "i"]

blue = "tab:blue"
orange = "tab:orange"

fig = plt.figure(figsize=(3019 / 200, 2907 / 200), dpi=200)

for k, p in enumerate(panels):
    ax = fig.add_axes(rects[p])
    mx, my = np.array(mamap_profiles[k]).T
    cx, cy = np.array(charm_profiles[k]).T

    ax.fill_between(mx, my - mamap_unc[k], my + mamap_unc[k], color=blue, alpha=0.15, lw=0)
    ax.fill_between(cx, cy - charm_unc[k], cy + charm_unc[k], color=orange, alpha=0.15, lw=0)
    ax.plot(mx, my, color=blue, lw=1.5)
    ax.plot(cx, cy, color=orange, lw=1.5)

    ax.vlines([-15, 15], -0.5, 0.5, colors="k", linestyles=":", lw=2, zorder=4)
    ax.vlines([edge_left[k], edge_right[k]], -1, 1, colors="k", linestyles=":", lw=2, zorder=4)

    ax.set_xlim(-16.5, 16.5)
    ax.set_xticks([-15, -10, -5, 0, 5, 10, 15])
    if p == "b":
        ax.set_ylim(-2.24, 10.95)
        ax.set_yticks([-2, 0, 2, 4, 6, 8, 10])
    else:
        ax.set_ylim(-1.5, 3.5)
        ax.set_yticks([-1, 0, 1, 2, 3])

    ax.grid(True, linestyle="--", color="lightgray", lw=0.8)
    ax.set_axisbelow(True)
    ax.tick_params(labelsize=10)

    if p not in xlabel_panels:
        ax.tick_params(labelbottom=False)
    else:
        ax.set_xlabel("Across leg distance relative to baseline [km]", fontsize=12)
    if p in no_ylabels:
        ax.tick_params(labelleft=False)
    if p in ylabel_panels:
        ax.set_ylabel("Background normalized\nCH$_4$ column anomaly [%]", fontsize=12)

    ax.text(0.055, 0.965, f"MAMAP2DL:\n   {mamap_rate[k]:.1f} t h$^{{-1}}$ ± {mamap_err[k]:.1f}%",
            transform=ax.transAxes, color=blue, fontsize=10.8, ha="left", va="top")
    ax.text(0.628, 0.965, f"CHARM-F:\n   {charm_rate[k]:.1f} t h$^{{-1}}$ ± {charm_err[k]:.1f}%",
            transform=ax.transAxes, color=orange, fontsize=10.8, ha="left", va="top")
    ax.text(0.015, 0.78, f"({p})", transform=ax.transAxes, fontsize=11.5,
            fontweight="bold", ha="left", va="center")

fig.savefig("out.png", dpi=200)
